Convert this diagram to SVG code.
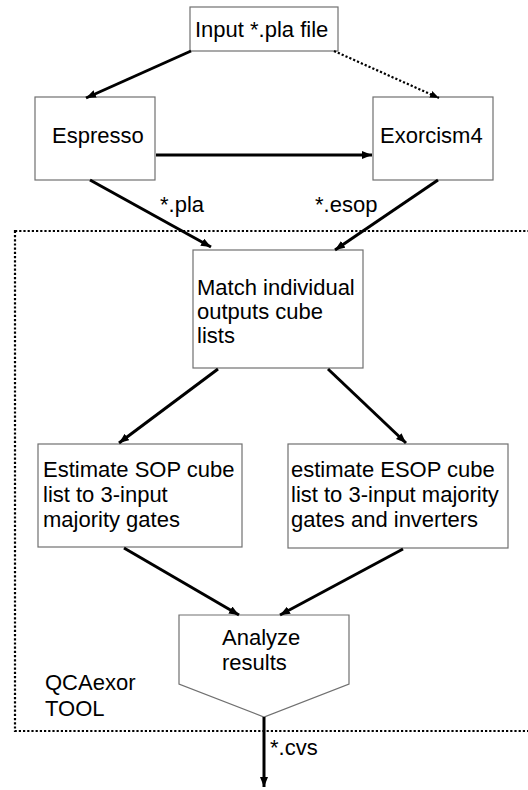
<svg xmlns="http://www.w3.org/2000/svg" width="528" height="790" viewBox="0 0 528 790">
  <style>
    .box { fill: #ffffff; stroke: #707070; stroke-width: 1.2; }
    .lbl { font-family: "Liberation Sans", Arial, sans-serif; font-size: 22px; fill: #000000; }
    .edge { fill: none; stroke: #000000; stroke-width: 3; }
    .dot { fill: none; stroke: #000000; stroke-width: 2.2; stroke-dasharray: 2.2 2; }
  </style>
  <defs>
    <marker id="head" viewBox="0 0 10 8" refX="10" refY="4" markerWidth="10" markerHeight="8" markerUnits="userSpaceOnUse" orient="auto">
      <path d="M0,0 L10,4 L0,8 Z" fill="#000000"/>
    </marker>
    <marker id="headSmall" viewBox="0 0 10 8" refX="10" refY="4" markerWidth="9" markerHeight="8" markerUnits="userSpaceOnUse" orient="auto">
      <path d="M0,0 L10,4 L0,8 Z" fill="#000000"/>
    </marker>
  </defs>

  <!-- tool boundary -->
  <g id="qcaexor-tool">
    <rect x="15" y="231" width="530" height="500" class="dot"/>
    <text class="lbl" x="45" y="690">QCAexor</text>
    <text class="lbl" x="45" y="716">TOOL</text>
  </g>

  <g id="input">
    <rect class="box" x="190" y="7" width="148" height="44"/>
    <text class="lbl" x="195" y="37">Input *.pla file</text>
  </g>

  <g id="espresso">
    <rect class="box" x="35" y="97" width="120" height="83"/>
    <text class="lbl" x="52" y="143">Espresso</text>
  </g>

  <g id="exorcism4">
    <rect class="box" x="373" y="97" width="120" height="83"/>
    <text class="lbl" x="380" y="143">Exorcism4</text>
  </g>

  <g id="match">
    <rect class="box" x="193" y="250" width="170" height="118"/>
    <text class="lbl" x="197" y="295">Match individual</text>
    <text class="lbl" x="197" y="319">outputs cube</text>
    <text class="lbl" x="197" y="343">lists</text>
  </g>

  <g id="estimate-sop">
    <rect class="box" x="38" y="444" width="204" height="103"/>
    <text class="lbl" x="43" y="477">Estimate SOP cube</text>
    <text class="lbl" x="43" y="502">list to 3-input</text>
    <text class="lbl" x="43" y="527">majority gates</text>
  </g>

  <g id="estimate-esop">
    <rect class="box" x="288" y="444" width="220" height="104"/>
    <text class="lbl" x="291" y="477">estimate ESOP cube</text>
    <text class="lbl" x="291" y="502">list to 3-input majority</text>
    <text class="lbl" x="291" y="527">gates and inverters</text>
  </g>

  <g id="analyze">
    <path class="box" d="M179,615 L349,615 L349,684 L264,717 L179,684 Z"/>
    <text class="lbl" x="222" y="645">Analyze</text>
    <text class="lbl" x="222" y="670">results</text>
  </g>

  <g id="connectors">
    <line class="edge" x1="191" y1="51" x2="86" y2="98" marker-end="url(#head)"/>
    <line class="dot" x1="334" y1="51" x2="439" y2="98" marker-end="url(#headSmall)"/>
    <line class="edge" x1="156" y1="155" x2="372" y2="155" marker-end="url(#head)"/>
    <line class="edge" x1="90" y1="180" x2="211" y2="247" marker-end="url(#head)"/>
    <line class="edge" x1="438" y1="180" x2="335" y2="250" marker-end="url(#head)"/>
    <line class="edge" x1="218" y1="369" x2="119" y2="443" marker-end="url(#head)"/>
    <line class="edge" x1="328" y1="369" x2="406" y2="443" marker-end="url(#head)"/>
    <line class="edge" x1="124" y1="548" x2="239" y2="615" marker-end="url(#head)"/>
    <line class="edge" x1="403" y1="549" x2="280" y2="615" marker-end="url(#head)"/>
    <line class="edge" x1="264" y1="717" x2="264" y2="787" marker-end="url(#head)"/>
    <text class="lbl" x="160" y="212">*.pla</text>
    <text class="lbl" x="315" y="212">*.esop</text>
    <text class="lbl" x="270" y="755">*.cvs</text>
  </g>
</svg>
